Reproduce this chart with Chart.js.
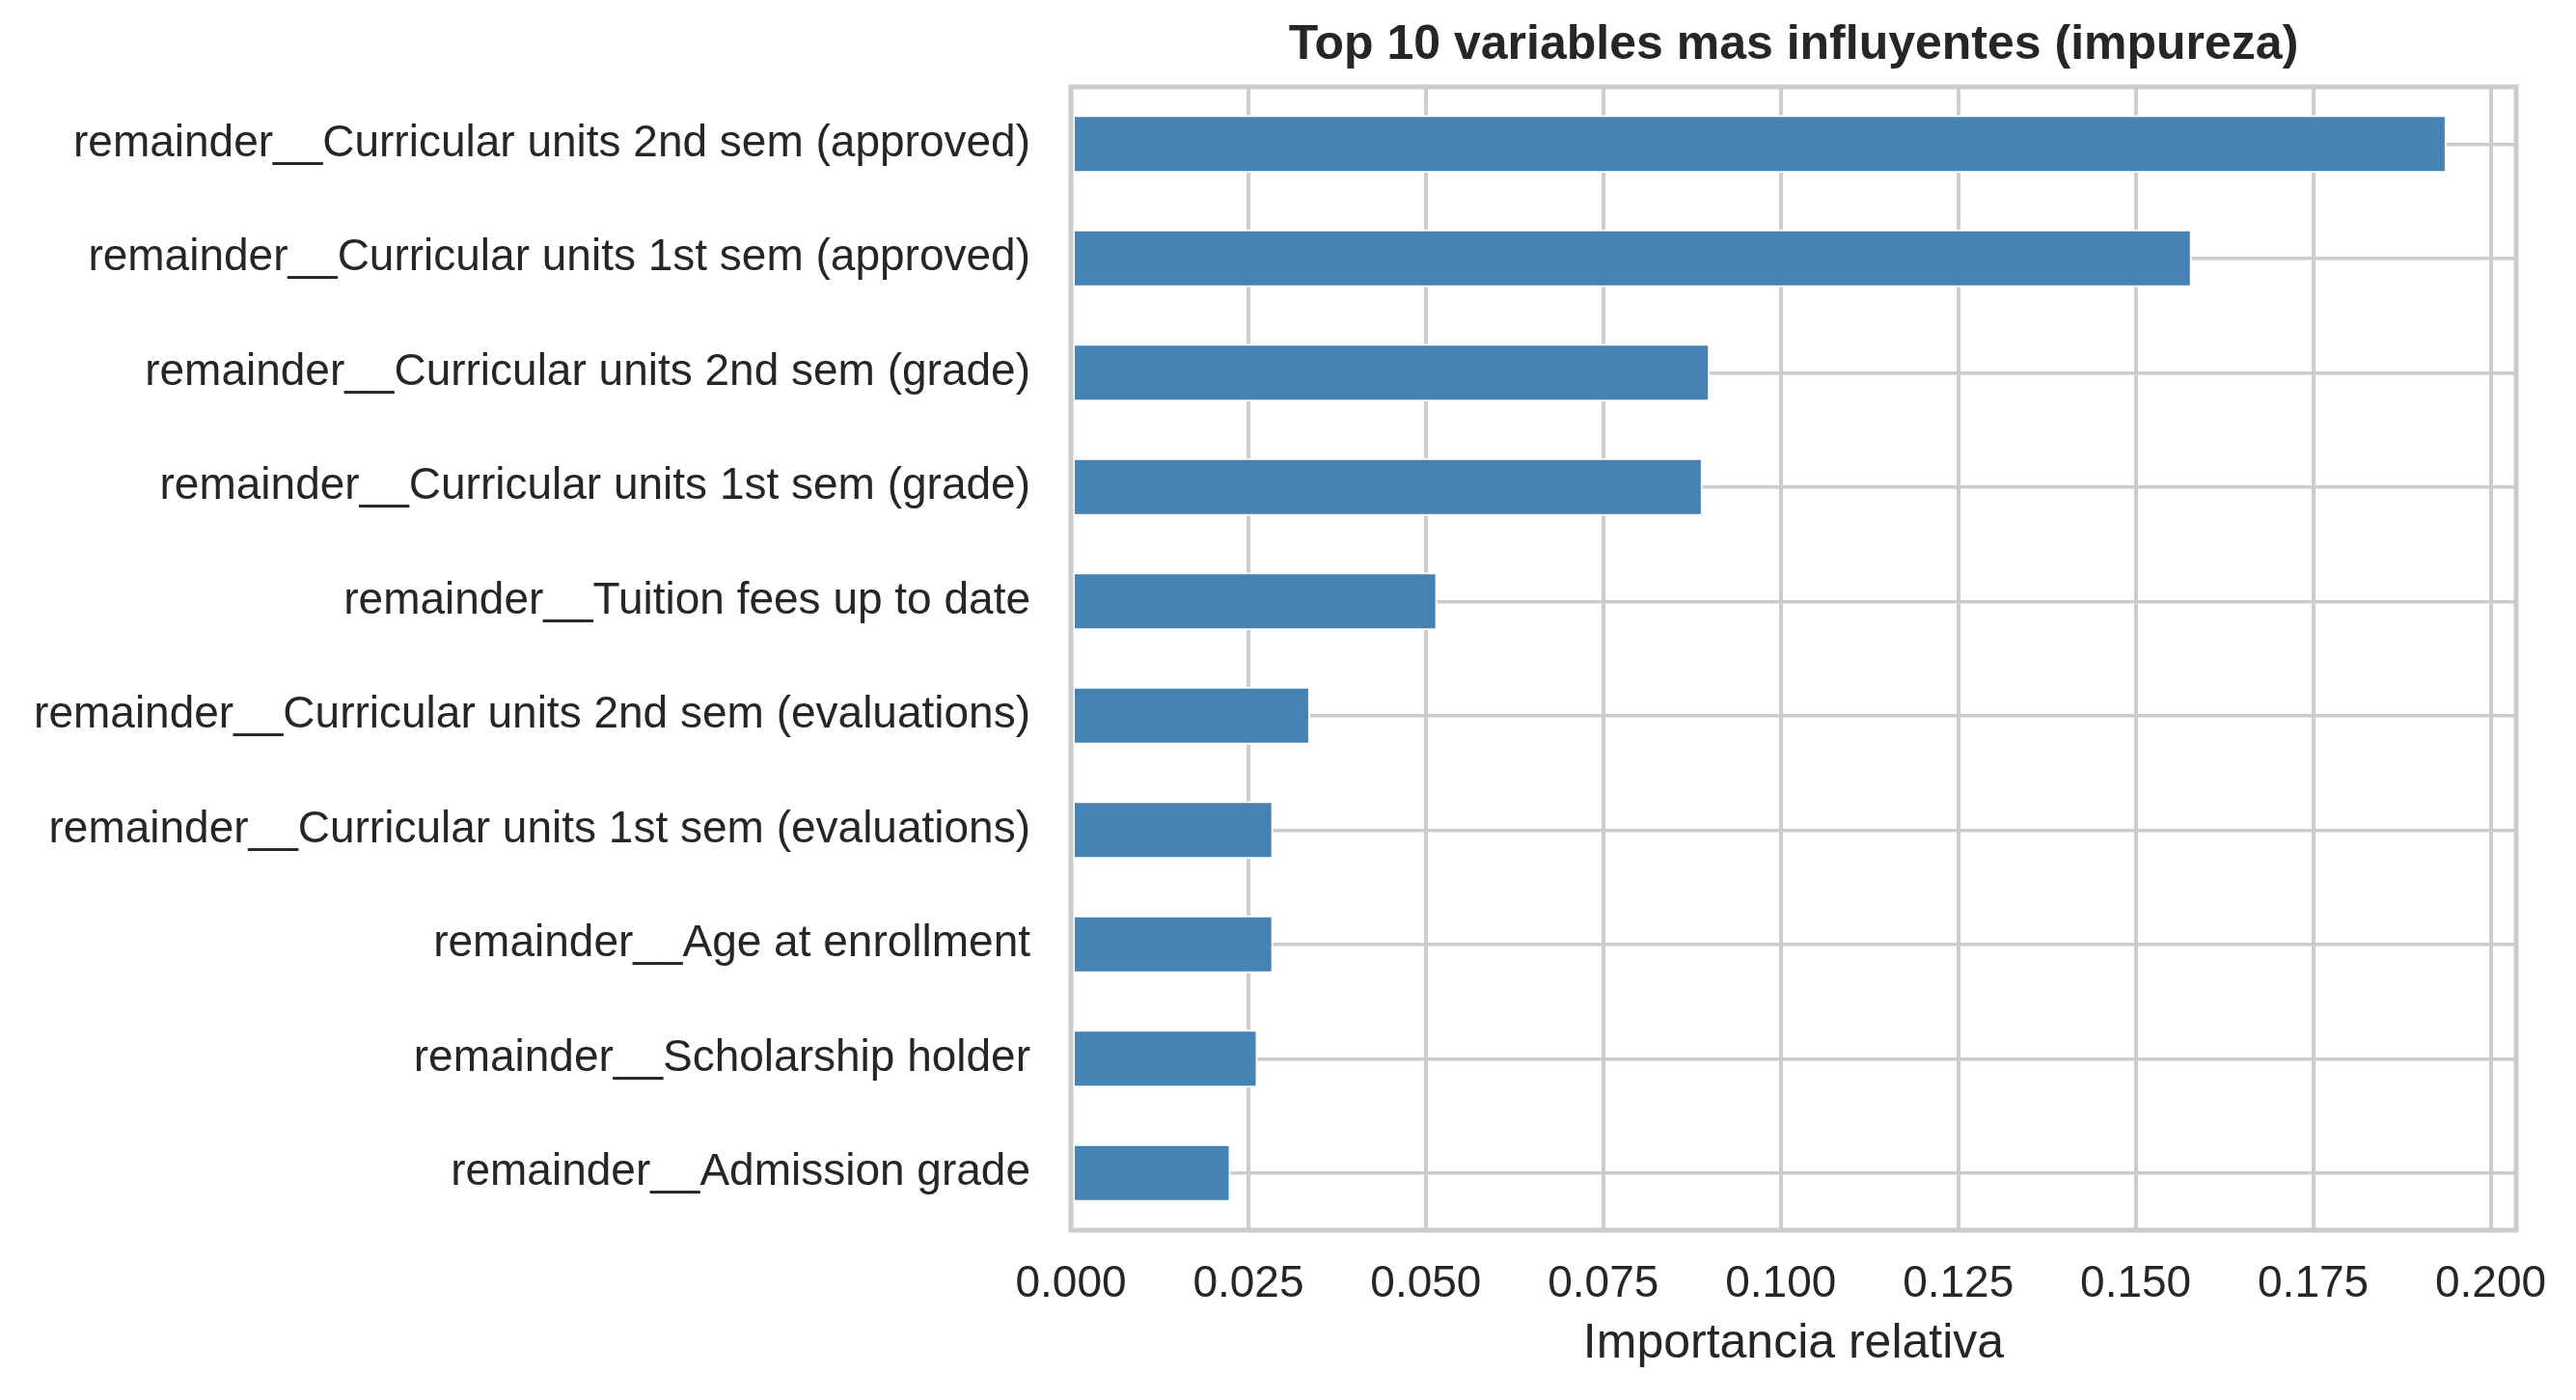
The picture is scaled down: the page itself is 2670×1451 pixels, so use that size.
<!DOCTYPE html>
<html>
<head>
<meta charset="utf-8">
<script src="https://cdn.jsdelivr.net/npm/chart.js@4"></script>
<style>
  html, body { margin: 0; padding: 0; background: #ffffff; }
  #chart { display: block; }
</style>
</head>
<body>
<canvas id="chart" width="2670" height="1451" style="width:2670px;height:1451px"></canvas>
<script>
// Variables (de mayor a menor importancia)
const variables = [
    'remainder__Curricular units 2nd sem (approved)',
    'remainder__Curricular units 1st sem (approved)',
    'remainder__Curricular units 2nd sem (grade)',
    'remainder__Curricular units 1st sem (grade)',
    'remainder__Tuition fees up to date',
    'remainder__Curricular units 2nd sem (evaluations)',
    'remainder__Curricular units 1st sem (evaluations)',
    'remainder__Age at enrollment',
    'remainder__Scholarship holder',
    'remainder__Admission grade'
];

// Importancia por impureza
const importancia = [0.1938, 0.1579, 0.0900, 0.0890, 0.0516, 0.0337, 0.0285, 0.0285, 0.0263, 0.0225];

// Eje x
const xMin = 0;
const xMax = 0.2036;
const xPaso = 0.025;

const gris = '#cccccc';
const texto = '#262626';
const fuente = "'Liberation Sans', Arial, sans-serif";

// Marco completo alrededor del area del grafico (como los spines de matplotlib)
const marco = {
    id: 'marco',
    afterDatasetsDraw(chart) {
        const {ctx, chartArea} = chart;
        ctx.save();
        ctx.strokeStyle = gris;
        ctx.lineWidth = 5;
        ctx.strokeRect(chartArea.left, chartArea.top,
            chartArea.right - chartArea.left, chartArea.bottom - chartArea.top);
        ctx.restore();
    }
};

const config = {
    type: 'bar',
    data: {
        labels: variables,
        datasets: [{
            data: importancia,
            backgroundColor: '#4682b4',
            borderColor: '#ffffff',
            borderWidth: 2,
            borderSkipped: false,
            barPercentage: 0.506,
            categoryPercentage: 1.0
        }]
    },
    options: {
        indexAxis: 'y',
        responsive: false,
        animation: false,
        devicePixelRatio: 1,
        layout: {
            padding: { left: 0, right: 62, top: 0, bottom: 0 }
        },
        plugins: {
            legend: { display: false },
            tooltip: { enabled: false },
            title: {
                display: true,
                fullSize: false,
                text: 'Top 10 variables mas influyentes (impureza)',
                color: texto,
                font: { family: fuente, size: 50, weight: 'bold', lineHeight: 1.2 },
                padding: { top: 17.7, bottom: 12.3 }
            }
        },
        scales: {
            x: {
                type: 'linear',
                min: xMin,
                max: xMax,
                afterFit(scale) { scale.height = 176; },
                ticks: {
                    stepSize: xPaso,
                    includeBounds: false,
                    color: texto,
                    padding: 28.4,
                    font: { family: fuente, size: 46, lineHeight: 1.2 },
                    callback: (v) => Number(v).toFixed(3)
                },
                grid: { color: gris, lineWidth: 4, drawTicks: false },
                border: { display: false },
                title: {
                    display: true,
                    text: 'Importancia relativa',
                    color: texto,
                    font: { family: fuente, size: 50, lineHeight: 1.2 },
                    padding: { top: 0, bottom: 27.3 }
                }
            },
            y: {
                type: 'category',
                afterFit(scale) { scale.width = 1110; },
                ticks: {
                    color: texto,
                    padding: 42,
                    autoSkip: false,
                    font: { family: fuente, size: 46, lineHeight: 1.2 }
                },
                grid: { color: gris, lineWidth: 3.5, drawTicks: false, offset: false },
                border: { display: false }
            }
        }
    },
    plugins: [marco]
};

const grafico = new Chart(document.getElementById('chart'), config);
</script>
</body>
</html>
